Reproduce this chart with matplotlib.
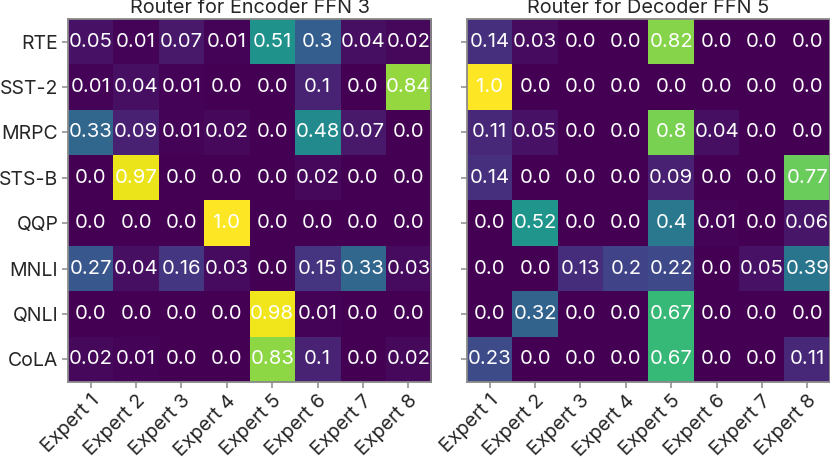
import matplotlib
matplotlib.use("Agg")
import matplotlib.pyplot as plt
import numpy as np

plt.rcParams['font.family'] = ['Inter', 'DejaVu Sans']

tasks = ["RTE", "SST-2", "MRPC", "STS-B", "QQP", "MNLI", "QNLI", "CoLA"]
experts = ["Expert 1", "Expert 2", "Expert 3", "Expert 4",
           "Expert 5", "Expert 6", "Expert 7", "Expert 8"]

encoder_title = "Router for Encoder FFN 3"
encoder_vals = [
    [0.05, 0.01, 0.07, 0.01, 0.51, 0.3, 0.04, 0.02],
    [0.01, 0.04, 0.01, 0.0, 0.0, 0.1, 0.0, 0.84],
    [0.33, 0.09, 0.01, 0.02, 0.0, 0.48, 0.07, 0.0],
    [0.0, 0.97, 0.0, 0.0, 0.0, 0.02, 0.0, 0.0],
    [0.0, 0.0, 0.0, 1.0, 0.0, 0.0, 0.0, 0.0],
    [0.27, 0.04, 0.16, 0.03, 0.0, 0.15, 0.33, 0.03],
    [0.0, 0.0, 0.0, 0.0, 0.98, 0.01, 0.0, 0.0],
    [0.02, 0.01, 0.0, 0.0, 0.83, 0.1, 0.0, 0.02],
]

decoder_title = "Router for Decoder FFN 5"
decoder_vals = [
    [0.14, 0.03, 0.0, 0.0, 0.82, 0.0, 0.0, 0.0],
    [1.0, 0.0, 0.0, 0.0, 0.0, 0.0, 0.0, 0.0],
    [0.11, 0.05, 0.0, 0.0, 0.8, 0.04, 0.0, 0.0],
    [0.14, 0.0, 0.0, 0.0, 0.09, 0.0, 0.0, 0.77],
    [0.0, 0.52, 0.0, 0.0, 0.4, 0.01, 0.0, 0.06],
    [0.0, 0.0, 0.13, 0.2, 0.22, 0.0, 0.05, 0.39],
    [0.0, 0.32, 0.0, 0.0, 0.67, 0.0, 0.0, 0.0],
    [0.23, 0.0, 0.0, 0.0, 0.67, 0.0, 0.0, 0.11],
]

W, H = 830, 459
fig = plt.figure(figsize=(W / 100, H / 100), dpi=100)

ax_w = 363 / W
ax_h = 363 / H
ax_b = (H - 382) / H
ax1 = fig.add_axes([68 / W, ax_b, ax_w, ax_h])
ax2 = fig.add_axes([467 / W, ax_b, ax_w, ax_h])

text_col = "#262626"
spine_col = "#8a8a8a"

for ax, vals, title, show_y in [(ax1, encoder_vals, encoder_title, True),
                                (ax2, decoder_vals, decoder_title, False)]:
    data = np.array(vals)
    ax.imshow(data, cmap="viridis", vmin=0, vmax=1, aspect="auto",
              interpolation="nearest")
    for i in range(data.shape[0]):
        for j in range(data.shape[1]):
            ax.text(j, i, str(round(float(data[i, j]), 2)), ha="center",
                    va="center", color="white", fontsize=14.6)
    ax.set_xticks(range(len(experts)))
    ax.set_xticklabels(experts, rotation=45, ha="right",
                       rotation_mode="anchor", fontsize=14.2, color=text_col)
    ax.set_yticks(range(len(tasks)))
    if show_y:
        ax.set_yticklabels(tasks, fontsize=14.0, color=text_col)
    else:
        ax.set_yticklabels([])
    ax.tick_params(axis="both", length=4.5, width=1.1, color=spine_col, pad=2.5)
    for s in ax.spines.values():
        s.set_color(spine_col)
        s.set_linewidth(1.3)
    ax.set_title(title, fontsize=14.3, color=text_col, pad=4.5)

fig.savefig("out.png", dpi=100)
